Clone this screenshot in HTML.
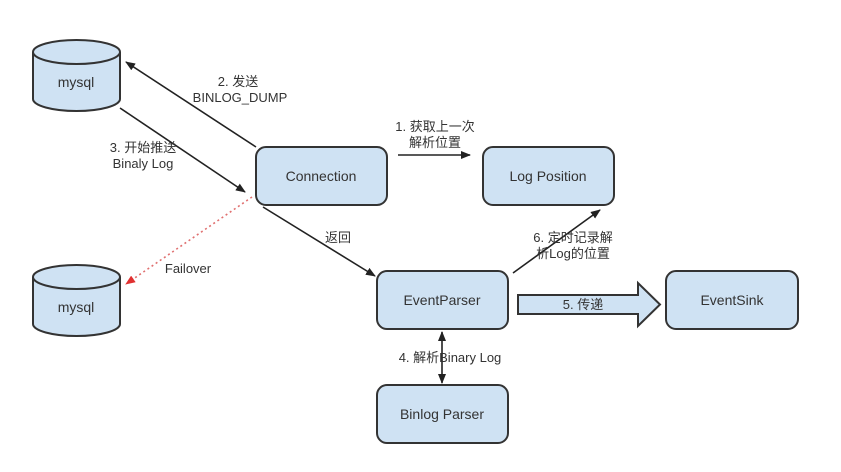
<!DOCTYPE html>
<html><head><meta charset="utf-8"><style>
html,body{margin:0;padding:0;background:#fff;}
svg text{font-family:"Liberation Sans","Noto Sans CJK SC",sans-serif;fill:#333;}
</style></head><body>
<svg width="841" height="467" viewBox="0 0 841 467" xmlns="http://www.w3.org/2000/svg">
<defs>
<marker id="a" markerWidth="10" markerHeight="8" refX="9" refY="4" orient="auto" markerUnits="userSpaceOnUse"><path d="M0,0 L10,4 L0,8 Z" fill="#222"/></marker>
<marker id="r" markerWidth="10" markerHeight="8" refX="9" refY="4" orient="auto" markerUnits="userSpaceOnUse"><path d="M0,0 L10,4 L0,8 Z" fill="#e03030"/></marker>
</defs>
<g stroke="#333" stroke-width="2" fill="#cfe2f3">
<path d="M33,52 L33,99 A43.5,12 0 0 0 120,99 L120,52"/>
<ellipse cx="76.5" cy="52" rx="43.5" ry="12"/>
<path d="M33,277 L33,324 A43.5,12 0 0 0 120,324 L120,277"/>
<ellipse cx="76.5" cy="277" rx="43.5" ry="12"/>
<rect x="256" y="147" width="131" height="58" rx="10"/>
<rect x="483" y="147" width="131" height="58" rx="10"/>
<rect x="377" y="271" width="131" height="58" rx="10"/>
<rect x="666" y="271" width="132" height="58" rx="10"/>
<rect x="377" y="385" width="131" height="58" rx="10"/>
<path d="M518,295 L638,295 L638,283 L660,304.5 L638,326 L638,314 L518,314 Z"/>
</g>
<g font-size="14" text-anchor="middle">
<text x="76" y="87">mysql</text>
<text x="76" y="312">mysql</text>
<text x="321" y="181">Connection</text>
<text x="548" y="181">Log Position</text>
<text x="442" y="305">EventParser</text>
<text x="732" y="305">EventSink</text>
<text x="442" y="419">Binlog Parser</text>
</g>
<g stroke="#222" stroke-width="1.6" fill="none">
<line x1="256" y1="147" x2="126" y2="62" marker-end="url(#a)"/>
<line x1="120" y1="108" x2="245" y2="192" marker-end="url(#a)"/>
<line x1="263" y1="207" x2="375" y2="276" marker-end="url(#a)"/>
<line x1="398" y1="155" x2="470" y2="155" marker-end="url(#a)"/>
<line x1="513" y1="273" x2="600" y2="210" marker-end="url(#a)"/>
<line x1="442" y1="355" x2="442" y2="332" marker-end="url(#a)"/>
<line x1="442" y1="355" x2="442" y2="383" marker-end="url(#a)"/>
<line x1="252" y1="197" x2="126" y2="284" stroke="#e07070" stroke-dasharray="2,3" marker-end="url(#r)"/>
</g>
<g font-size="13" text-anchor="middle">
<text x="238" y="86">2. 发送</text>
<text x="240" y="102">BINLOG_DUMP</text>
<text x="143" y="152">3. 开始推送</text>
<text x="143" y="168">Binaly Log</text>
<text x="188" y="273">Failover</text>
<text x="338" y="242">返回</text>
<text x="435" y="131">1. 获取上一次</text>
<text x="435" y="147">解析位置</text>
<text x="573" y="142" dy="100">6. 定时记录解</text>
<text x="573" y="258">析Log的位置</text>
<text x="583" y="309">5. 传递</text>
<text x="450" y="362">4. 解析Binary Log</text>
</g>
</svg>
</body></html>
